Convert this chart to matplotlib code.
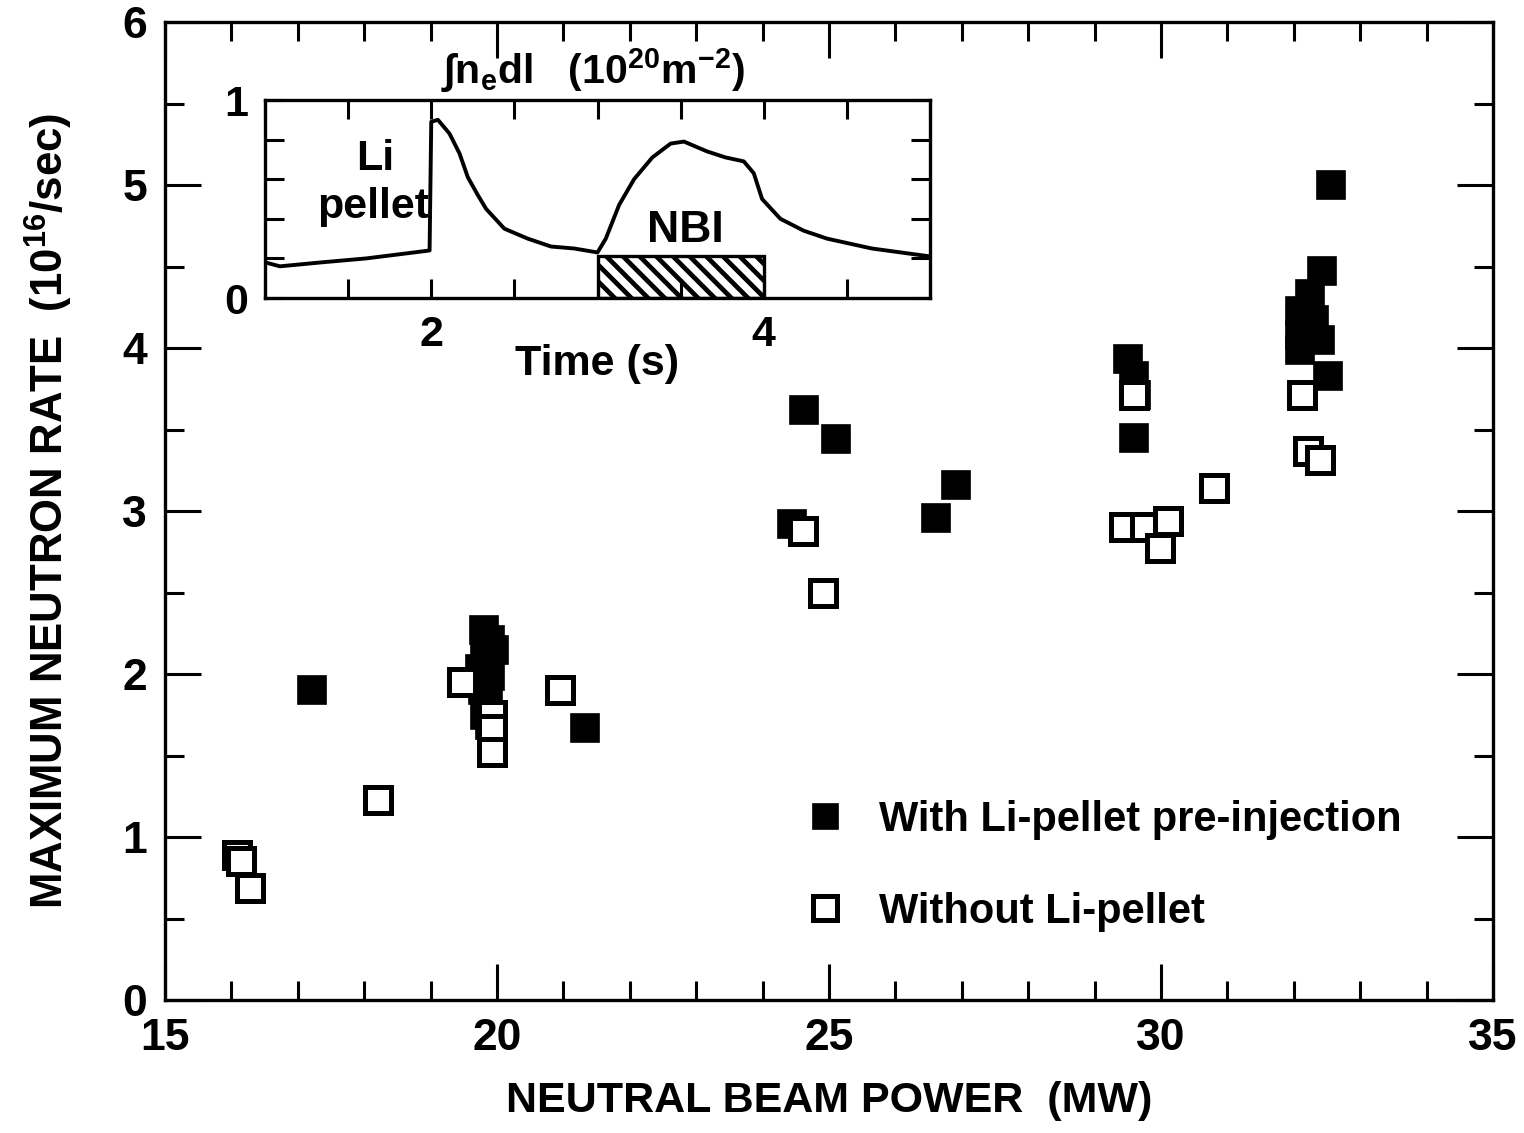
import numpy as np
import matplotlib
matplotlib.use("Agg")
import matplotlib.pyplot as plt
from matplotlib.ticker import MultipleLocator, FixedLocator, FixedFormatter

plt.rcParams['font.family'] = ['Liberation Sans', 'DejaVu Sans']
plt.rcParams['font.weight'] = 'bold'
plt.rcParams['axes.labelweight'] = 'bold'
plt.rcParams['mathtext.fontset'] = 'custom'
plt.rcParams['mathtext.rm'] = 'Liberation Sans:bold'
plt.rcParams['mathtext.it'] = 'Liberation Sans:bold:italic'
plt.rcParams['mathtext.bf'] = 'Liberation Sans:bold'
plt.rcParams['hatch.linewidth'] = 3.4

# ---------------- data ----------------
with_x = [17.21, 21.33,
          19.80, 19.90, 19.82, 19.90, 19.79, 19.86, 19.82, 19.90, 19.75, 19.95,
          24.44, 24.62, 25.10, 26.61, 26.91,
          29.50, 29.60, 29.63, 29.60,
          32.56, 32.42, 32.24, 32.09, 32.30, 32.09, 32.39, 32.09, 32.24, 32.52]
with_y = [1.90, 1.67,
          2.27, 2.21, 2.09, 1.99, 1.90, 1.84, 1.75, 1.69, 2.03, 2.15,
          2.92, 3.62, 3.44, 2.96, 3.16,
          3.93, 3.83, 3.71, 3.45,
          5.00, 4.47, 4.33, 4.23, 4.17, 4.08, 4.05, 3.99, 4.14, 3.83]

without_x = [16.08, 16.14, 16.28, 18.21,
             19.47, 19.92, 19.92, 19.92, 20.95,
             24.61, 24.91,
             29.44, 29.76, 29.98, 30.10, 30.80, 29.60,
             32.12, 32.21, 32.39]
without_y = [0.89, 0.85, 0.69, 1.23,
             1.95, 1.75, 1.66, 1.52, 1.90,
             2.88, 2.50,
             2.90, 2.90, 2.77, 2.94, 3.14, 3.71,
             3.71, 3.37, 3.31]

# inset: line-integrated density vs time
inset_t = [1.00, 1.09, 1.34, 1.61, 1.99, 2.00, 2.04, 2.11, 2.17, 2.22, 2.28, 2.33,
           2.44, 2.58, 2.72, 2.86, 3.00, 3.05, 3.13, 3.22, 3.33, 3.44, 3.52,
           3.66, 3.77, 3.88, 3.94, 3.99, 4.10, 4.24, 4.38, 4.65, 5.00]
inset_n = [0.18, 0.16, 0.18, 0.20, 0.24, 0.89, 0.90, 0.83, 0.73, 0.61, 0.52, 0.45,
           0.35, 0.30, 0.26, 0.25, 0.23, 0.30, 0.47, 0.60, 0.71, 0.78, 0.79,
           0.74, 0.71, 0.69, 0.63, 0.50, 0.40, 0.34, 0.30, 0.25, 0.21]
nbi_start, nbi_end, nbi_height = 3.0, 4.0, 0.21

x_major = [15, 20, 25, 30, 35]
y_major = [0, 1, 2, 3, 4, 5, 6]

# ---------------- figure ----------------
fig = plt.figure(figsize=(15.24, 11.33), dpi=100)
W, H = 1524, 1133
ax = fig.add_axes([165 / W, 1 - 1000 / H, 1328 / W, 978 / H])

ax.set_xlim(15, 35)
ax.set_ylim(0, 6)
ax.xaxis.set_major_locator(FixedLocator(x_major))
ax.xaxis.set_minor_locator(MultipleLocator(1))
ax.yaxis.set_major_locator(FixedLocator(y_major))
ax.yaxis.set_minor_locator(MultipleLocator(0.5))
ax.tick_params(which='both', direction='in', top=True, right=True, width=2.2)
ax.tick_params(which='major', length=26, labelsize=32, pad=13)
ax.tick_params(which='minor', length=14)
for sp in ax.spines.values():
    sp.set_linewidth(2.4)

ax.plot(with_x, with_y, linestyle='none', marker='s', markersize=20,
        markerfacecolor='black', markeredgecolor='black', markeredgewidth=1.2,
        label='With Li-pellet pre-injection', zorder=3)
ax.plot(without_x, without_y, linestyle='none', marker='s', markersize=19,
        markerfacecolor='white', markeredgecolor='black', markeredgewidth=3.6,
        label='Without Li-pellet', zorder=4)

ax.set_xlabel('NEUTRAL BEAM POWER  (MW)', fontsize=31, fontweight='bold', labelpad=16)
ax.set_ylabel(r'MAXIMUM NEUTRON RATE  (10$\mathregular{^{16}}$/sec)', fontsize=31.5,
              fontweight='bold', labelpad=34)

leg = ax.legend(loc='upper left', bbox_to_anchor=((804 - 165) / 1328, (1000 - 800) / 978),
                frameon=False, borderaxespad=0, borderpad=0, handlelength=1.0,
                handletextpad=0.8, labelspacing=1.25, fontsize=30, markerscale=0.9)

# ---------------- inset ----------------
ax2 = fig.add_axes([265 / W, 1 - 298 / H, 665 / W, 198 / H])
ax2.set_xlim(1, 5)
ax2.set_ylim(0, 1)
ax2.plot(inset_t, inset_n, color='black', linewidth=2.8)
ax2.bar(nbi_start, nbi_height, width=nbi_end - nbi_start, align='edge',
        facecolor='white', edgecolor='black', hatch='\\\\', linewidth=2.4)
ax2.xaxis.set_major_locator(FixedLocator([1, 1.5, 2, 2.5, 3, 3.5, 4, 4.5, 5]))
ax2.xaxis.set_major_formatter(FixedFormatter(['', '', '2', '', '', '', '4', '', '']))
ax2.yaxis.set_major_locator(FixedLocator([0, 0.2, 0.4, 0.6, 0.8, 1.0]))
ax2.yaxis.set_major_formatter(FixedFormatter(['0', '', '', '', '', '1']))
ax2.tick_params(direction='in', top=True, right=True, length=14, width=2.2,
                labelsize=31, pad=12)
for sp in ax2.spines.values():
    sp.set_linewidth(2.4)
ax2.set_xlabel('Time (s)', fontsize=31, fontweight='bold', labelpad=-8)

ax2.text(1.66, 0.70, 'Li', fontsize=31, ha='center', va='center')
ax2.text(1.65, 0.46, 'pellet', fontsize=31, ha='center', va='center')
ax2.text(3.53, 0.34, 'NBI', fontsize=32, ha='center', va='center')
ax2.text(2.06, 1.03, r'∫n$\mathregular{_e}$dl   (10$\mathregular{^{20}}$m$\mathregular{^{-2}}$)',
         fontsize=29.5, ha='left', va='bottom')

fig.savefig('out.png', dpi=100)
